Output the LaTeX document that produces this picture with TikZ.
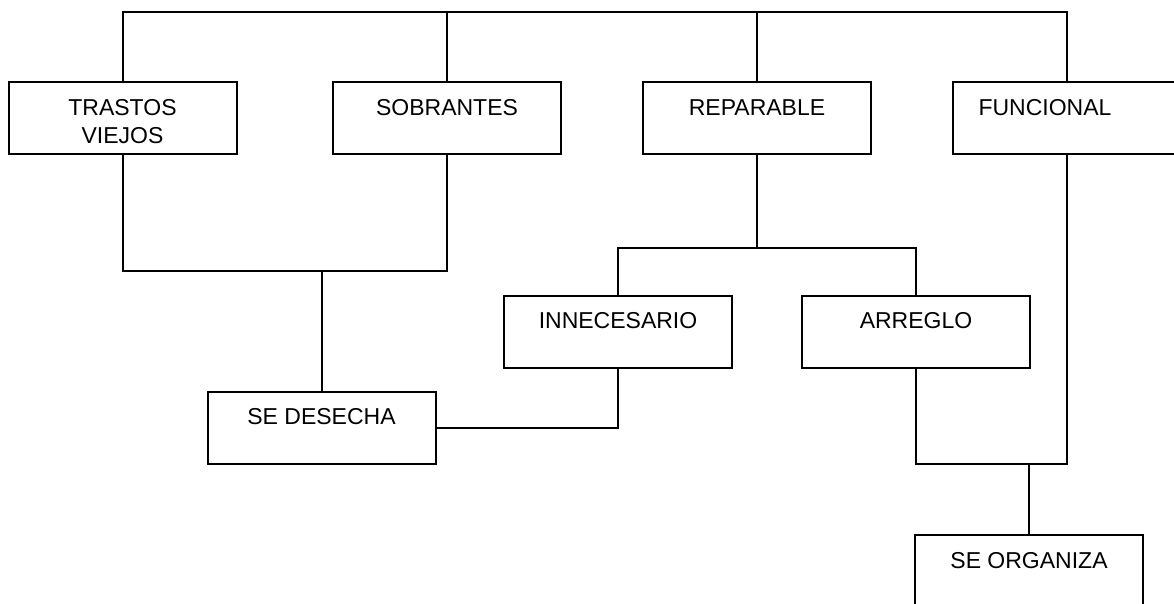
\documentclass[tikz,border=0pt]{standalone}
\usepackage{fontspec}
\setmainfont{Liberation Sans}
\begin{document}
\begin{tikzpicture}[x=0.5pt,y=-0.5pt,
  caja/.style={draw, line width=1pt, inner sep=0pt,
    execute at begin node={\begin{minipage}[c][36pt][t]{114pt}\fontsize{11.5}{14}\selectfont\centering\rule{0pt}{16.5pt}},
    execute at end node={\end{minipage}}},
  linea/.style={line width=1pt}]
  % Rahmen
  \clip (0,0) rectangle (1174,604);

  % Primera fila
  \node[caja] (trastos) at (122.5,118.5) {TRASTOS\\VIEJOS};
  \node[caja] (sobrantes) at (447,118.5) {SOBRANTES};
  \node[caja] (reparable) at (757,118.5) {REPARABLE};
  \node[caja] (funcional) at (1067,118.5) {\hspace*{-22pt}FUNCIONAL};

  % Segunda y tercera fila
  \node[caja] (innecesario) at (618,332) {INNECESARIO};
  \node[caja] (arreglo) at (916,332) {ARREGLO};
  \node[caja] (desecha) at (321.5,428) {SE DESECHA};
  \node[caja] (organiza) at (1029,571) {SE ORGANIZA};

  % Linea superior
  \coordinate (arriba) at (0,12);
  \draw[linea] (trastos.north) |- (arriba -| funcional.north) -- (funcional.north);
  \draw[linea] (sobrantes.north) -- (sobrantes.north |- arriba);
  \draw[linea] (reparable.north) -- (reparable.north |- arriba);

  % Se desecha
  \coordinate (union1) at (0,271);
  \draw[linea] (trastos.south) |- (union1 -| sobrantes.south) -- (sobrantes.south);
  \draw[linea] (desecha.north) -- (desecha.north |- union1);
  \draw[linea] (desecha.east) -| (innecesario.south);

  % Reparable
  \coordinate (union2) at (0,248);
  \draw[linea] (reparable.south) -- (reparable.south |- union2);
  \draw[linea] (innecesario.north) |- (union2 -| arreglo.north) -- (arreglo.north);

  % Se organiza
  \coordinate (union3) at (0,464);
  \draw[linea] (arreglo.south) |- (union3 -| funcional.south) -- (funcional.south);
  \draw[linea] (organiza.north) -- (organiza.north |- union3);
\end{tikzpicture}
\end{document}
